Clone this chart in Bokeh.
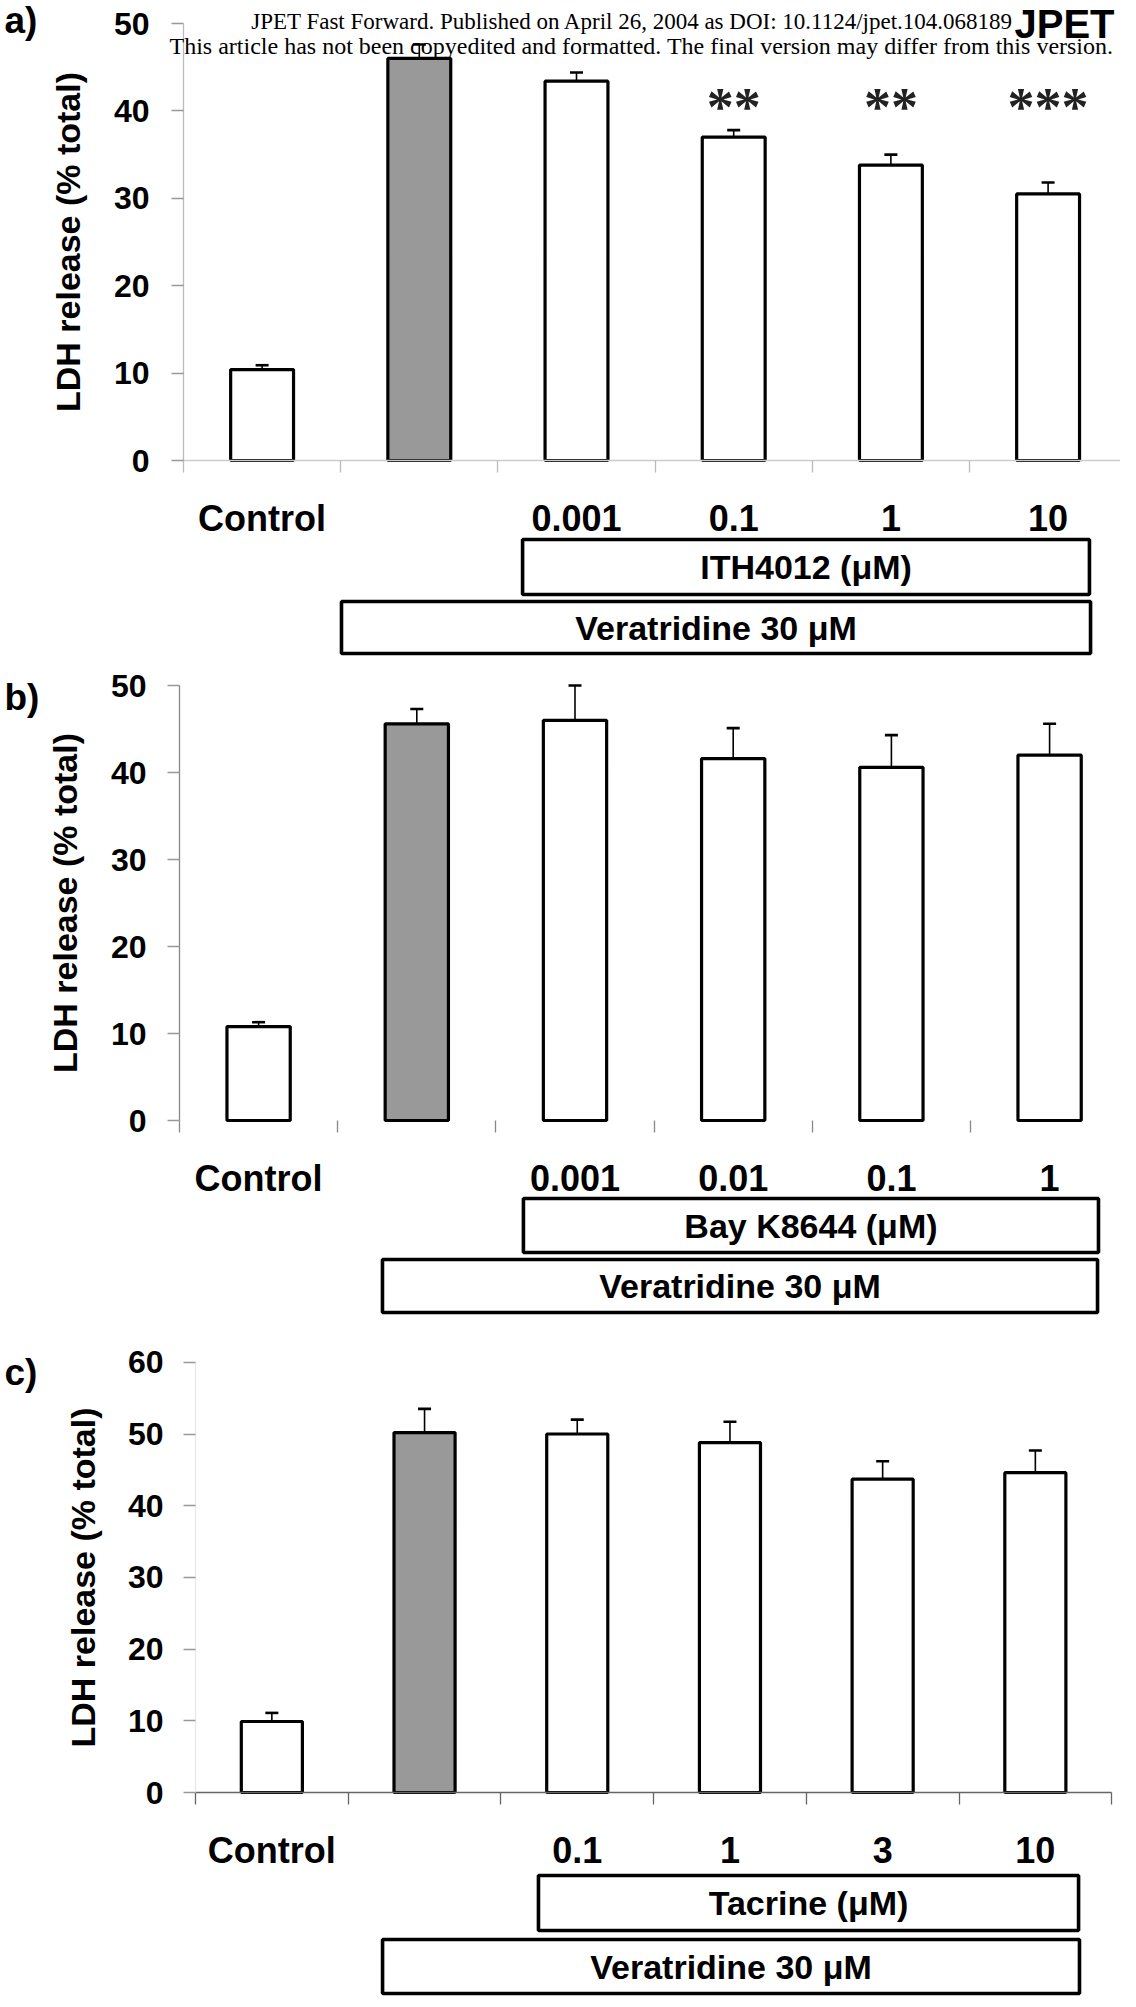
from bokeh.plotting import figure
from bokeh.models import Range1d, FixedTicker, Label, ColumnDataSource
from bokeh.layouts import column
from bokeh.embed import file_html
from bokeh.resources import INLINE
from bokeh.core.properties import value

# ---------------- data ----------------
labels_a = ["Control", "", "0.001", "0.1", "1", "10"]
ldh_a = [10.4, 46.0, 43.4, 37.0, 33.8, 30.5]
sem_a = [0.5, 1.6, 1.0, 0.8, 1.2, 1.3]
sig_a = ["", "", "", "**", "**", "***"]

labels_b = ["Control", "", "0.001", "0.01", "0.1", "1"]
ldh_b = [10.8, 45.6, 46.0, 41.6, 40.6, 42.0]
sem_b = [0.5, 1.7, 4.0, 3.5, 3.7, 3.6]
sig_b = ["", "", "", "", "", ""]

labels_c = ["Control", "", "0.1", "1", "3", "10"]
ldh_c = [9.9, 50.2, 50.0, 48.8, 43.7, 44.6]
sem_c = [1.2, 3.3, 2.0, 2.9, 2.5, 3.1]
sig_c = ["", "", "", "", "", ""]

groups = ["control", "veratridine", "drug", "drug", "drug", "drug"]
yticks_ab = [0, 10, 20, 30, 40, 50]
yticks_c = [0, 10, 20, 30, 40, 50, 60]

treat_a = ["ITH4012 (μM)", "Veratridine 30 μM"]
treat_b = ["Bay K8644 (μM)", "Veratridine 30 μM"]
treat_c = ["Tacrine (μM)", "Veratridine 30 μM"]

# ---------------- style / layout (page pixels) ----------------
FILL = {"control": "white", "veratridine": "#999999", "drug": "white"}
FONT = "Liberation Sans"
W = 1120

PANELS = {
    "a": dict(axis_x=191, cat_w=157.2, y0=468, ppu=8.74, top=8, bottom=670,
              letter_y=48, ylab_col="#bbbbbb", base_col="#cccccc", sep_col="#bbbbbb",
              tick_standoff=22, lab_standoff=24,
              spans=[(2.157, 5.763), (1.005, 5.770)], rows=[(547, 602), (609, 661)]),
    "b": dict(axis_x=187, cat_w=158.2, y0=1128, ppu=8.7, top=670, bottom=1330,
              letter_y=725, ylab_col="#888888", base_col=None, sep_col="#888888",
              tick_standoff=21, lab_standoff=24,
              spans=[(2.174, 5.809), (1.283, 5.803)], rows=[(1206, 1260), (1267, 1320)]),
    "c": dict(axis_x=203, cat_w=152.7, y0=1800, ppu=7.17, top=1330, bottom=2004,
              letter_y=1400, ylab_col="#e8e8e8", base_col="#666666", sep_col="#666666",
              tick_standoff=20, lab_standoff=23,
              spans=[(2.246, 5.783), (1.225, 5.789)], rows=[(1883, 1938), (1947, 2001)]),
}


def dx(P, px):
    return (px - P["axis_x"]) / P["cat_w"]


def dy(P, py):
    return (P["y0"] - py) / P["ppu"]


def panel(key, letter, labels, vals, errs, sig, yticks, treat, star_y=40.5):
    P = PANELS[key]
    n = len(labels)
    centers = [i + 0.5 for i in range(n)]
    bounds = [float(i) for i in range(n + 1)]
    p = figure(width=W, height=P["bottom"] - P["top"],
               x_range=Range1d(dx(P, 8), dx(P, 8 + W)),
               y_range=Range1d(dy(P, P["bottom"]), dy(P, P["top"])),
               output_backend="svg", toolbar_location=None, min_border=0)
    p.outline_line_color = None
    p.grid.visible = False
    p.background_fill_color = "white"
    p.border_fill_color = "white"

    src = ColumnDataSource(dict(x=centers, top=vals, err_top=[v + e for v, e in zip(vals, errs)],
                                fill=[FILL[g] for g in groups], sig=sig))
    p.segment(x0="x", y0="top", x1="x", y1="err_top", source=src, line_color="black", line_width=1.6)
    p.scatter(x="x", y="err_top", source=src, marker="dash", size=13, line_color="black", line_width=2.6)
    p.vbar(x="x", top="top", bottom=0, width=0.40, source=src, fill_color="fill",
           line_color="black", line_width=3.2)
    p.text(x="x", y=star_y, text="sig", source=src, text_font=value("Liberation Serif"),
           text_font_style="bold", text_font_size="54px", text_align="center",
           text_baseline="middle", text_color="#222222")

    # x axis at y = 0 with separators at category boundaries
    xa = p.xaxis[0]
    xa.fixed_location = 0
    xa.bounds = (0, n)
    xa.ticker = FixedTicker(ticks=centers, minor_ticks=bounds)
    xa.major_label_overrides = {c: l for c, l in zip(centers, labels)}
    xa.major_tick_line_color = None
    xa.major_tick_out = 12
    xa.major_tick_in = 0
    xa.minor_tick_out = 12
    xa.minor_tick_in = 0
    xa.minor_tick_line_color = P["sep_col"]
    xa.minor_tick_line_width = 1.3
    xa.axis_line_color = P["base_col"]
    xa.axis_line_width = 1.3
    xa.major_label_standoff = 25
    xa.major_label_text_font = FONT
    xa.major_label_text_font_style = "bold"
    xa.major_label_text_font_size = "36px"
    xa.major_label_text_color = "black"

    ya = p.yaxis[0]
    ya.fixed_location = 0
    ya.ticker = FixedTicker(ticks=yticks)
    ya.bounds = (0, yticks[-1])
    ya.axis_line_color = P["ylab_col"]
    ya.axis_line_width = 1.3
    ya.major_tick_line_color = "#999999"
    ya.major_tick_line_width = 1.3
    ya.major_tick_out = 12
    ya.major_tick_in = 0
    ya.minor_tick_line_color = None
    ya.major_label_standoff = P["tick_standoff"]
    ya.major_label_text_font = FONT
    ya.major_label_text_font_style = "bold"
    ya.major_label_text_font_size = "32px"
    ya.major_label_text_color = "black"
    ya.axis_label = "LDH release (% total)"
    ya.axis_label_text_font = FONT
    ya.axis_label_text_font_style = "bold"
    ya.axis_label_text_font_size = "34px"
    ya.axis_label_text_color = "black"
    ya.axis_label_standoff = P["lab_standoff"]

    # treatment boxes below the category labels
    spans, rows = P["spans"], P["rows"]
    p.quad(left=[s[0] for s in spans], right=[s[1] for s in spans],
           top=[dy(P, r[0]) for r in rows], bottom=[dy(P, r[1]) for r in rows],
           fill_color="white", line_color="black", line_width=3.6)
    p.text(x=[(s[0] + s[1]) / 2 for s in spans], y=[dy(P, (r[0] + r[1]) / 2) for r in rows],
           text=treat, text_font=value(FONT), text_font_style="bold",
           text_font_size="34px", text_align="center", text_baseline="middle",
           text_color="black")

    p.add_layout(Label(x=dx(P, 12), y=dy(P, P["letter_y"]), text=letter, text_font=FONT,
                       text_font_style="bold", text_font_size="37px", text_color="black"))
    return p, P


pa, Pa = panel("a", "a)", labels_a, ldh_a, sem_a, sig_a, yticks_ab, treat_a)
pa.add_layout(Label(x=dx(Pa, 640), y=dy(Pa, 41), text_align="center", text_color="black",
                    text="JPET Fast Forward. Published on April 26, 2004 as DOI: 10.1124/jpet.104.068189",
                    text_font="Liberation Serif", text_font_size="23px"))
pa.add_layout(Label(x=dx(Pa, 649), y=dy(Pa, 66), text_align="center", text_color="black",
                    text="This article has not been copyedited and formatted. The final version may differ from this version.",
                    text_font="Liberation Serif", text_font_size="24px"))
pa.add_layout(Label(x=dx(Pa, 1122), y=dy(Pa, 53), text="JPET", text_font=FONT,
                    text_font_style="bold", text_font_size="40px", text_align="right",
                    text_color="black"))

pb, Pb = panel("b", "b)", labels_b, ldh_b, sem_b, sig_b, yticks_ab, treat_b)
pc, Pc = panel("c", "c)", labels_c, ldh_c, sem_c, sig_c, yticks_c, treat_c)

layout = column(pa, pb, pc, spacing=0)
open("out.html", "w").write(file_html(layout, INLINE))
